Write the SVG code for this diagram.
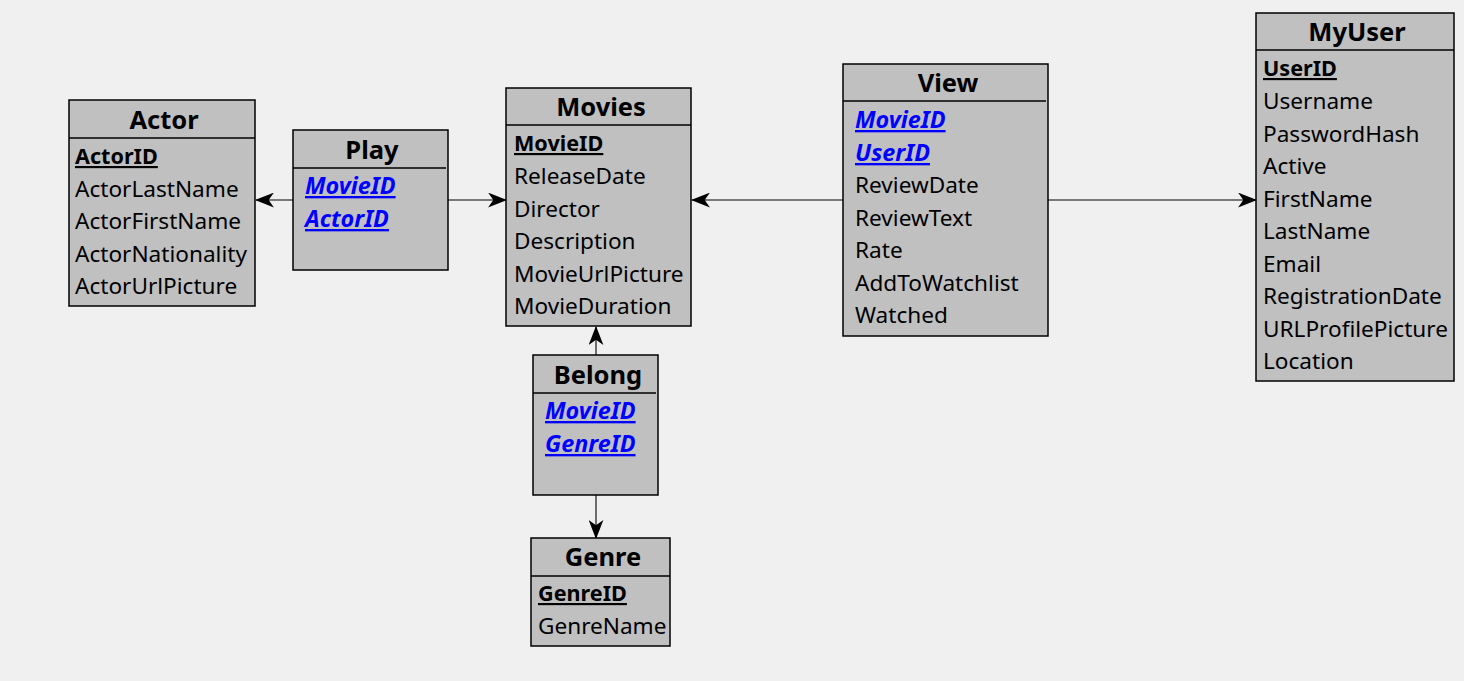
<svg xmlns="http://www.w3.org/2000/svg" width="1464" height="681" viewBox="0 0 1464 681">
<defs>
<style>
.bg{fill:#f0f0f0}
.box{fill:#c0c0c0;stroke:#000;stroke-width:1.5}
.hl{stroke:#000;stroke-width:1.3}
text{font-family:"Noto Sans","Open Sans","DejaVu Sans",sans-serif;fill:#000}
.t{font-size:25.5px;font-weight:bold;text-anchor:middle}
.f{font-size:22.6px}
.pk{font-size:21.6px;font-weight:bold;text-decoration:underline}
.fk{font-size:23.4px;font-weight:bold;font-style:italic;fill:#0000ff;text-decoration:underline}
.c{stroke:#000;stroke-width:1.1;fill:none}
</style>
<marker id="arr" viewBox="0 0 18 14" refX="17" refY="7" markerWidth="19" markerHeight="15" markerUnits="userSpaceOnUse" orient="auto">
<path d="M0,0 L18,7 L0,14 L5,7 Z" fill="#000"/>
</marker>
</defs>
<rect class="bg" x="0" y="0" width="1464" height="681"/>
<g id="connectors">
<line class="c" x1="293" y1="200" x2="256" y2="200" marker-end="url(#arr)"/>
<line class="c" x1="448" y1="200" x2="506" y2="200" marker-end="url(#arr)"/>
<line class="c" x1="843" y1="200" x2="692" y2="200" marker-end="url(#arr)"/>
<line class="c" x1="1048" y1="200" x2="1256" y2="200" marker-end="url(#arr)"/>
<line class="c" x1="596" y1="355" x2="596" y2="327" marker-end="url(#arr)"/>
<line class="c" x1="596" y1="495" x2="596" y2="538" marker-end="url(#arr)"/>
</g>
<g id="actor">
<rect class="box" x="69" y="100" width="186" height="206"/>
<line class="hl" x1="69" y1="138" x2="255" y2="138"/>
<text class="t" x="164" y="129">Actor</text>
<text class="pk" x="75" y="164">ActorID</text>
<text class="f" x="75" y="197">ActorLastName</text>
<text class="f" x="75" y="229">ActorFirstName</text>
<text class="f" x="75" y="262">ActorNationality</text>
<text class="f" x="75" y="294">ActorUrlPicture</text>
</g>
<g id="play">
<rect class="box" x="293" y="130" width="155" height="140"/>
<line class="hl" x1="293" y1="168" x2="446" y2="168"/>
<text class="t" x="372" y="159">Play</text>
<text class="fk" x="305" y="194">MovieID</text>
<text class="fk" x="305" y="227">ActorID</text>
</g>
<g id="movies">
<rect class="box" x="506" y="88" width="185" height="238"/>
<line class="hl" x1="506" y1="125" x2="691" y2="125"/>
<text class="t" x="601" y="116">Movies</text>
<text class="pk" x="514" y="151">MovieID</text>
<text class="f" x="514" y="184">ReleaseDate</text>
<text class="f" x="514" y="217">Director</text>
<text class="f" x="514" y="249">Description</text>
<text class="f" x="514" y="282">MovieUrlPicture</text>
<text class="f" x="514" y="314">MovieDuration</text>
</g>
<g id="belong">
<rect class="box" x="533" y="355" width="125" height="140"/>
<line class="hl" x1="533" y1="393" x2="656" y2="393"/>
<text class="t" x="598" y="384">Belong</text>
<text class="fk" x="545" y="419">MovieID</text>
<text class="fk" x="545" y="452">GenreID</text>
</g>
<g id="genre">
<rect class="box" x="531" y="538" width="139" height="108"/>
<line class="hl" x1="531" y1="576" x2="670" y2="576"/>
<text class="t" x="603" y="566">Genre</text>
<text class="pk" x="538" y="601">GenreID</text>
<text class="f" x="538" y="634">GenreName</text>
</g>
<g id="view">
<rect class="box" x="843" y="64" width="205" height="272"/>
<line class="hl" x1="843" y1="101" x2="1046" y2="101"/>
<text class="t" x="948" y="92">View</text>
<text class="fk" x="855" y="128">MovieID</text>
<text class="fk" x="855" y="161">UserID</text>
<text class="f" x="855" y="193">ReviewDate</text>
<text class="f" x="855" y="226">ReviewText</text>
<text class="f" x="855" y="258">Rate</text>
<text class="f" x="855" y="291">AddToWatchlist</text>
<text class="f" x="855" y="323">Watched</text>
</g>
<g id="myuser">
<rect class="box" x="1256" y="13" width="198" height="368"/>
<line class="hl" x1="1256" y1="50" x2="1454" y2="50"/>
<text class="t" x="1357" y="41">MyUser</text>
<text class="pk" x="1263" y="76">UserID</text>
<text class="f" x="1263" y="109">Username</text>
<text class="f" x="1263" y="142">PasswordHash</text>
<text class="f" x="1263" y="174">Active</text>
<text class="f" x="1263" y="207">FirstName</text>
<text class="f" x="1263" y="239">LastName</text>
<text class="f" x="1263" y="272">Email</text>
<text class="f" x="1263" y="304">RegistrationDate</text>
<text class="f" x="1263" y="337">URLProfilePicture</text>
<text class="f" x="1263" y="369">Location</text>
</g>
</svg>
